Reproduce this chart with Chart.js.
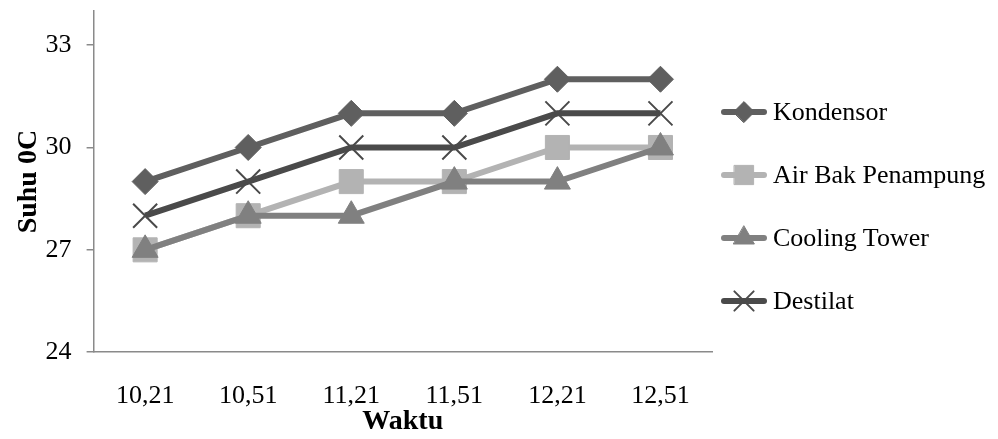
<!DOCTYPE html>
<html>
<head>
<meta charset="utf-8">
<script src="https://cdn.jsdelivr.net/npm/chart.js@4/dist/chart.umd.min.js"></script>
<style>
  body { margin: 0; background: #fff; }
  #wrap { position: relative; width: 998px; height: 439px; }
  #legend { position: absolute; left: 720px; top: 97px; font-family: 'Liberation Serif', serif; font-size: 26px; color: #000; }
  .item { display: flex; align-items: center; height: 30px; margin-bottom: 33px; }
  .item canvas { margin-right: 5px; }
</style>
</head>
<body>
<div id="wrap">
  <canvas id="LineChart"></canvas>
  <div id="legend"></div>
</div>
<script>
// chart data
const waktu = ['10,21', '10,51', '11,21', '11,51', '12,21', '12,51'];
const kondensor = [29, 30, 31, 31, 32, 32];
const airBak = [27, 28, 29, 29, 30, 30];
const coolingTower = [27, 28, 28, 29, 29, 30];
const destilat = [28, 29, 30, 30, 31, 31];
const yTicks = [24, 27, 30, 33];

const seriesNames = ['Kondensor', 'Air Bak Penampung', 'Cooling Tower', 'Destilat'];
const seriesData = [kondensor, airBak, coolingTower, destilat];
const colors = ['#5f5f5f', '#b3b3b3', '#808080', '#4a4a4a'];
const styles = ['rectRot', 'rect', 'triangle', 'crossRot'];
const radii = [13, 17, 15, 17];

const font = "'Liberation Serif', serif";

const datasets = seriesNames.map((name, i) => ({
    label: name,
    data: seriesData[i],
    borderColor: colors[i],
    backgroundColor: colors[i],
    borderWidth: 6,
    pointStyle: styles[i],
    pointRadius: radii[i],
    pointHoverRadius: radii[i],
    pointBorderWidth: styles[i] === 'crossRot' ? 2 : 1,
    order: seriesNames.length - i // later series drawn on top
}));

const config = {
    type: 'line',
    data: { labels: waktu, datasets: datasets },
    options: {
        responsive: true,
        maintainAspectRatio: false,
        animation: false,
        layout: { autoPadding: false, padding: { left: 2, right: 286, top: 11, bottom: 0 } },
        plugins: {
            legend: { display: false },
            tooltip: { enabled: false }
        },
        scales: {
            x: {
                offset: true,
                grid: { display: false, drawTicks: false },
                border: { color: '#8a8a8a', width: 1.5 },
                ticks: { color: '#000', font: { family: font, size: 26 }, padding: 28, maxRotation: 0 },
                title: {
                    display: true,
                    text: 'Waktu',
                    color: '#000',
                    font: { family: font, size: 28, weight: 'bold' },
                    padding: { top: -34, bottom: 0 }
                }
            },
            y: {
                min: 24,
                max: 34,
                afterBuildTicks: axis => { axis.ticks = yTicks.map(v => ({ value: v })); },
                afterFit: axis => { axis.paddingTop = 0; }, // top tick is not at the edge
                grid: { drawOnChartArea: false, tickLength: 7, color: '#8a8a8a', lineWidth: 1.5 },
                border: { color: '#8a8a8a', width: 1.5 },
                ticks: { color: '#000', font: { family: font, size: 26 }, padding: 15 },
                title: {
                    display: true,
                    text: 'Suhu 0C',
                    color: '#000',
                    font: { family: font, size: 28, weight: 'bold' },
                    padding: { top: 10, bottom: -15 }
                }
            }
        }
    }
};

const ctx = document.getElementById('LineChart').getContext('2d');
new Chart(ctx, config);

// legend: line with marker, then the series name
const legendEl = document.getElementById('legend');
seriesNames.forEach((name, i) => {
    const item = document.createElement('div');
    item.className = 'item';
    const c = document.createElement('canvas');
    c.width = 48; c.height = 30;
    const g = c.getContext('2d');
    g.strokeStyle = colors[i];
    g.fillStyle = colors[i];
    g.lineWidth = 6;
    g.lineCap = 'round';
    g.beginPath(); g.moveTo(4, 15); g.lineTo(44, 15); g.stroke();
    g.lineWidth = styles[i] === 'crossRot' ? 2 : 1;
    Chart.helpers.drawPoint(g, { pointStyle: styles[i], radius: radii[i] * 0.8, rotation: 0, borderWidth: g.lineWidth }, 24, 15);
    const span = document.createElement('span');
    span.textContent = name;
    item.appendChild(c);
    item.appendChild(span);
    legendEl.appendChild(item);
});
</script>
</body>
</html>
